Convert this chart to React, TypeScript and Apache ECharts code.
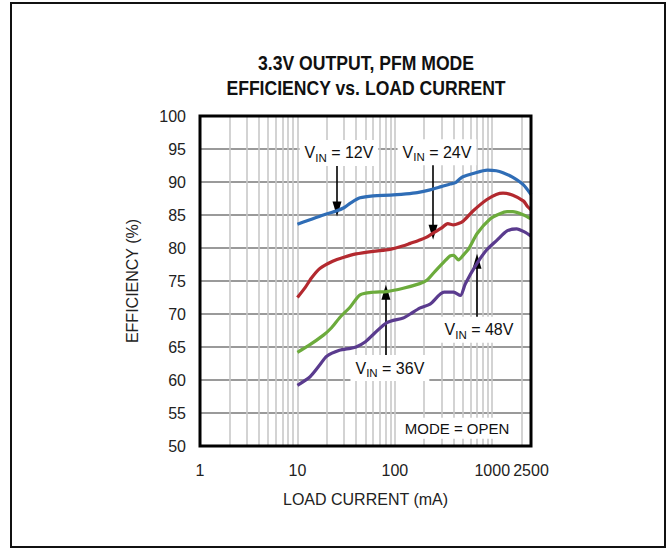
import React, { useEffect, useRef } from "react";
import * as echarts from "echarts";

// Load current (mA) and efficiency (%) for each input voltage
const vin12X = [10, 13, 18.5, 25, 30, 35, 44, 60, 90, 130, 170, 230, 300, 370, 420, 460, 500, 636, 890, 1100, 1290, 1630, 2080, 2500];
const vin12Y = [83.6, 84.2, 85.0, 85.6, 86.1, 86.8, 87.6, 87.9, 88.0, 88.2, 88.4, 88.8, 89.3, 89.7, 89.9, 90.4, 90.8, 91.3, 91.8, 91.7, 91.4, 90.7, 89.6, 88.1];

const vin24X = [10, 12, 14, 17, 23, 30, 40, 60, 89, 120, 144, 173, 210, 250, 300, 350, 400, 450, 505, 635, 875, 1100, 1290, 1630, 2100, 2300, 2500];
const vin24Y = [72.5, 74.0, 75.5, 76.9, 78.0, 78.6, 79.1, 79.5, 79.8, 80.3, 80.7, 81.1, 81.6, 82.3, 83.0, 83.7, 83.5, 83.7, 84.1, 85.6, 87.3, 88.1, 88.3, 88.0, 87.1, 86.3, 85.8];

const vin36X = [10, 13, 18.5, 22, 27, 35, 44, 60, 83, 122, 180, 213, 260, 320, 370, 400, 450, 510, 575, 700, 950, 1200, 1420, 1630, 2100, 2500];
const vin36Y = [64.2, 65.2, 66.8, 67.8, 69.4, 71.1, 72.9, 73.3, 73.4, 73.9, 74.6, 75.1, 76.5, 77.9, 78.8, 78.9, 78.2, 79.0, 79.9, 82.2, 84.4, 85.2, 85.5, 85.5, 85.0, 84.4];

const vin48X = [10, 13.5, 17, 20, 27, 35, 40, 50, 60, 83, 122, 144, 180, 230, 320, 400, 470, 530, 700, 875, 1120, 1420, 1780, 2160, 2500];
const vin48Y = [59.2, 60.5, 62.3, 63.6, 64.5, 64.8, 65.0, 65.8, 66.9, 68.7, 69.4, 70.0, 70.9, 71.5, 73.3, 73.3, 72.8, 74.6, 77.7, 79.7, 81.2, 82.6, 82.9, 82.4, 81.8];

const xTickValues = [1, 10, 100, 1000, 2500];
const logGridValues = [2, 3, 4, 5, 6, 7, 8, 9, 10, 20, 30, 40, 50, 60, 70, 80, 90, 100, 200, 300, 400, 500, 600, 700, 800, 900, 1000, 2000];

// annotation: label text, label position, arrow start, arrow end (data coords)
const annoLabels = ["12V", "24V", "36V", "48V"];
const annoLabelPos = [[26.7, 94.4], [271, 94.5], [89, 61.8], [731, 67.6]];
const arrowFrom = [[25.5, 92.6], [247, 93.0], [81, 63.5], [698, 69.5]];
const arrowTo = [[25.5, 85.9], [247, 82.4], [81, 73.3], [698, 78.0]];
const modeLabel = "MODE = OPEN";
const modePos = [435, 52.7];
const titleLines = ["3.3V OUTPUT, PFM MODE", "EFFICIENCY vs. LOAD CURRENT"];

const FONT = "'Liberation Sans Narrow', 'Arial Narrow', 'Liberation Sans', Arial, sans-serif";

const zip = (xs: number[], ys: number[]) => xs.map((x, i) => [x, ys[i]]);

export default function App() {
  const ref = useRef<HTMLDivElement>(null);
  useEffect(() => {
    if (!ref.current) return;
    const chart = echarts.init(ref.current, undefined, { renderer: "svg" });
    const curve = (name: string, xs: number[], ys: number[], color: string) => ({
      name,
      type: "line",
      data: zip(xs, ys),
      smooth: 0.25,
      showSymbol: false,
      z: 5,
      lineStyle: { color, width: 3.2 },
      itemStyle: { color },
    });
    chart.setOption({
      animation: false,
      textStyle: { fontFamily: FONT },
      grid: {
        left: 200,
        right: 136,
        top: 116,
        bottom: 102,
        show: true,
        borderColor: "#000",
        borderWidth: 0,
        backgroundColor: "#fff",
      },
      xAxis: {
        type: "log",
        logBase: 10,
        min: 1,
        max: 2500,
        name: "LOAD CURRENT (mA)",
        nameLocation: "middle",
        nameGap: 45,
        nameTextStyle: { fontSize: 16, color: "#222", fontFamily: FONT },
        axisLine: { show: false },
        axisTick: { show: false },
        splitLine: { show: false },
        axisLabel: {
          fontSize: 16,
          color: "#222",
          margin: 16,
          fontFamily: FONT,
          showMaxLabel: true,
          customValues: xTickValues,
          formatter: (v: number) => String(Math.round(v)),
        },
      },
      yAxis: {
        type: "value",
        min: 50,
        max: 100,
        interval: 5,
        z: 2,
        name: "EFFICIENCY (%)",
        nameLocation: "middle",
        nameGap: 60,
        nameTextStyle: { fontSize: 16, color: "#222", fontFamily: FONT },
        axisLine: { show: false },
        axisTick: { show: false },
        axisLabel: { fontSize: 16, color: "#222", margin: 14, fontFamily: FONT },
        splitLine: { show: true, lineStyle: { color: "#9a9a9a", width: 2 } },
      },
      graphic: [
        {
          type: "rect",
          shape: { x: 11, y: 3, width: 654, height: 544 },
          style: { fill: "none", stroke: "#111", lineWidth: 2 },
          silent: true,
        },
        {
          type: "rect",
          z: 100,
          shape: { x: 200, y: 116, width: 331, height: 330 },
          style: { fill: "none", stroke: "#000", lineWidth: 3 },
          silent: true,
        },
        ...titleLines.map((t, i) => ({
          type: "text",
          x: 366,
          y: 63 + i * 25,
          scaleX: 0.88,
          style: {
            text: t,
            fontSize: 20,
            fontWeight: "bold",
            fontFamily: FONT,
            fill: "#111",
            textAlign: "center",
            textVerticalAlign: "middle",
          },
        })),
      ],
      series: [
        {
          type: "line",
          data: [],
          z: 1,
          silent: true,
          markLine: {
            silent: true,
            symbol: "none",
            label: { show: false },
            lineStyle: { color: "#c8c8c8", width: 1.6, type: "solid" },
            data: logGridValues.map((v) => ({ xAxis: v })),
          },
        },
        curve("VIN = 12V", vin12X, vin12Y, "#2f6db6"),
        curve("VIN = 24V", vin24X, vin24Y, "#b3292f"),
        curve("VIN = 36V", vin36X, vin36Y, "#6cab3c"),
        curve("VIN = 48V", vin48X, vin48Y, "#5a3b8e"),
        {
          type: "line",
          data: [],
          z: 6,
          silent: true,
          markLine: {
            silent: true,
            symbol: ["none", "triangle"],
            symbolSize: [9, 15],
            label: { show: false },
            lineStyle: { color: "#000", width: 1.6, type: "solid" },
            data: arrowFrom.map((f, i) => [{ coord: f }, { coord: arrowTo[i] }]),
          },
          markPoint: {
            silent: true,
            symbol: "rect",
            symbolSize: 1,
            itemStyle: { color: "rgba(0,0,0,0)" },
            data: [
              ...annoLabels.map((t, i) => ({
                coord: annoLabelPos[i],
                label: {
                  show: true,
                  position: "inside",
                  formatter: `{a|V}{b|IN}{a| = ${t}}`,
                  backgroundColor: "#fff",
                  padding: [2, 5, 2, 5],
                  rich: {
                    a: { fontSize: 16, color: "#111", fontFamily: FONT, lineHeight: 22, verticalAlign: "middle" },
                    b: { fontSize: 11.5, color: "#111", fontFamily: FONT, lineHeight: 12, verticalAlign: "bottom" },
                  },
                },
              })),
              {
                coord: modePos,
                label: {
                  show: true,
                  position: "inside",
                  formatter: modeLabel,
                  backgroundColor: "#fff",
                  padding: [3, 6, 3, 6],
                  fontSize: 15,
                  color: "#111",
                  fontFamily: FONT,
                },
              },
            ],
          },
        },
      ],
    });
    return () => chart.dispose();
  }, []);
  return (
    <div
      ref={ref}
      style={{ position: "absolute", left: 0, top: 0, width: 667, height: 548, background: "#fff" }}
    />
  );
}
